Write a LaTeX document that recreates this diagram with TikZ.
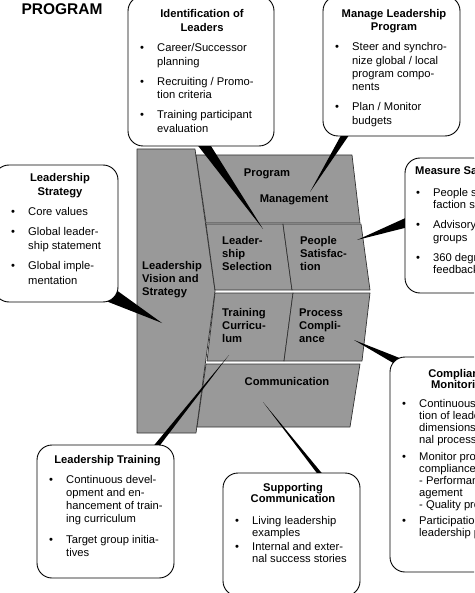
\documentclass[tikz,border=0pt]{standalone}
\usepackage{fontspec}
\setmainfont{Liberation Sans}
\usetikzlibrary{calc,backgrounds}
\definecolor{blockgray}{RGB}{153,153,153}
\definecolor{edgegray}{RGB}{50,50,50}
\newcommand{\bodysize}[1]{\fontsize{11.2}{#1}\selectfont}
\newcommand{\txtrows}[2][l]{\begin{tabular}[t]{@{}#1@{}}#2\end{tabular}}
\newcommand{\itemrows}[1]{\begin{tabular}[t]{@{}p{17pt}@{}l@{}}#1\end{tabular}}

\begin{document}
\begin{tikzpicture}[x=1pt,y=-1pt,
    block/.style={fill=blockgray,draw=edgegray,line width=0.7pt,line join=round},
    callout/.style={draw=black,line width=0.9pt,fill=white,rounded corners=15pt,inner sep=0pt},
    tail/.style={fill=black},
    blocklabel/.style={font=\bfseries\bodysize{13.3},inner sep=0pt},
    boxtitle/.style={font=\bfseries\bodysize{#1},inner sep=0pt,anchor=base},
    boxtitle/.default=13.5,
    boxlist/.style={font=\bodysize{#1},inner sep=0pt,anchor=base west},
    boxlist/.default=13.5]
    \useasboundingbox (0,0) rectangle (474,593);
    \clip (0,0) rectangle (474,593);

    % callout boxes
    \node[callout,minimum width=146pt,minimum height=150pt] (idbox) at (201,71) {};
    \node[callout,minimum width=137pt,minimum height=140pt] (mlbox) at (391.5,66) {};
    \node[callout,minimum width=124pt,minimum height=137pt] (lsbox) at (56,233.5) {};
    \node[callout,minimum width=140pt,minimum height=135pt] (msbox) at (475,225.5) {};
    \node[callout,minimum width=140pt,minimum height=215pt] (cmbox) at (460,464.5) {};
    \node[callout,minimum width=137pt,minimum height=133pt] (ltbox) at (105.5,511.5) {};
    \node[callout,minimum width=137pt,minimum height=123pt] (scbox) at (291.5,534.5) {};

    \node[font=\bfseries\fontsize{15.5}{18}\selectfont,inner sep=0pt] (prog) at (62,9) {PROGRAM};

    % callout texts
    \node[boxtitle=14] (idtitle) at (202,18) {\txtrows[c]{Identification of\\Leaders}};
    \node[boxlist=13.5] (idlist) at (140,52) {\itemrows{\textbullet & Career/Successor\\ & planning\\[6.5pt]
        \textbullet & Recruiting / Promo-\\ & tion criteria\\[6.5pt]
        \textbullet & Training participant\\ & evaluation}};

    \node[boxtitle=13] (mltitle) at (394,18) {\txtrows[c]{Manage Leadership\\Program}};
    \node[boxlist=13.3] (mllist) at (335,51) {\itemrows{\textbullet & Steer and synchro-\\ & nize global / local\\
        & program compo-\\ & nents\\[6.7pt]
        \textbullet & Plan / Monitor\\ & budgets}};

    \node[boxtitle=14] (lstitle) at (60,182) {\txtrows[c]{Leadership\\Strategy}};
    \node[boxlist=14] (lslist) at (11,216) {\itemrows{\textbullet & Core values\\[6pt]
        \textbullet & Global leader-\\ & ship statement\\[6pt]
        \textbullet & Global imple-\\ & mentation}};

    \node[boxtitle=12,anchor=base west] (mstitle) at (415,175) {Measure Satisfaction};
    \node[boxlist=12] (mslist) at (416,197) {\itemrows{\textbullet & People satis-\\ & faction survey\\[8pt]
        \textbullet & Advisory board\\ & groups\\[8pt]
        \textbullet & 360 degree\\ & feedback}};

    \node[boxtitle=11.5] (cmtitle) at (460,377) {\txtrows[c]{Compliance\\Monitoring}};
    \node[boxlist=12] (cmlist) at (402,407) {\itemrows{\textbullet & Continuous evalua-\\ & tion of leadership\\
        & dimensions in inter-\\ & nal processes\\[5pt]
        \textbullet & Monitor process\\ & compliance:\\ & - Performance man-\\ & agement\\ & - Quality processes\\[4.5pt]
        \textbullet & Participation in\\ & leadership program}};

    \node[boxtitle] (lttitle) at (107.5,463) {Leadership Training};
    \node[boxlist=13] (ltlist) at (49,483) {\itemrows{\textbullet & Continuous devel-\\ & opment and en-\\
        & hancement of train-\\ & ing curriculum\\[8pt]
        \textbullet & Target group initia-\\ & tives}};

    \node[boxtitle=11.5] (sctitle) at (293,491) {\txtrows[c]{Supporting\\Communication}};
    \node[boxlist=12] (sclist) at (235,524) {\itemrows{\textbullet & Living leadership\\ & examples\\[2pt]
        \textbullet & Internal and exter-\\ & nal success stories}};

    % block labels
    \node[blocklabel,anchor=base west] (lvs) at (142,269) {\txtrows{Leadership\\Vision and\\Strategy}};
    \node[blocklabel,anchor=base] (pm1) at (267,177) {Program};
    \node[blocklabel,anchor=base] (pm2) at (294,203) {Management};
    \node[blocklabel,anchor=base west] (sel) at (222,244) {\txtrows{Leader-\\ship\\Selection}};
    \node[blocklabel,anchor=base west] (ps) at (300,244) {\txtrows{People\\Satisfac-\\tion}};
    \node[blocklabel,anchor=base west] (tc) at (222,316) {\txtrows{Training\\Curricu-\\lum}};
    \node[blocklabel,anchor=base west] (pc) at (299,316) {\txtrows{Process\\Compli-\\ance}};
    \node[blocklabel,anchor=base] (com) at (287,385) {Communication};

    % tail tips
    \coordinate (idtip) at (263,229);
    \coordinate (mltip) at (310,192);
    \coordinate (lstip) at (162,323);
    \coordinate (mstip) at (357,240);
    \coordinate (cmtip) at (354,340);
    \coordinate (lttip) at (229,355);
    \coordinate (sctip) at (263,402);

    \begin{pgfonlayer}{background}
        % the blocks
        \draw[block] (137,149) -- (195,149) -- (215,291) -- (196,433) -- (137,433) -- cycle;
        \draw[block] (196,155) -- (352,155) -- (360,223) -- (206,223) -- cycle;
        \draw[block] (206,224) -- (283,224) -- (292,290) -- (215,290) -- cycle;
        \draw[block] (283,224) -- (361,224) -- (370,290) -- (292,290) -- cycle;
        \draw[block] (215,293) -- (293,293) -- (284,361) -- (207,361) -- cycle;
        \draw[block] (293,293) -- (370,293) -- (362,361) -- (284,361) -- cycle;
        \draw[block] (206,364) -- (360,364) -- (350,427) -- (197,427) -- cycle;
        % tails
        \fill[tail] ($(idbox.south)+(-4,-2)$) -- ($(idbox.south)+(9,-2)$) -- (idtip) -- cycle;
        \fill[tail] ($(mlbox.south)+(-50,-2)$) -- ($(mlbox.south)+(-42,-2)$) -- (mltip) -- cycle;
        \fill[tail] ($(lsbox.south east)+(-14,-2)$) -- ($(lsbox.south east)+(-3,-13)$) -- (lstip) -- cycle;
        \fill[tail] ($(msbox.west)+(2,-8)$) -- ($(msbox.west)+(2,2)$) -- (mstip) -- cycle;
        \fill[tail] ($(cmbox.north west)+(8,9)$) -- ($(cmbox.north west)+(14,3)$) -- (cmtip) -- cycle;
        \fill[tail] ($(ltbox.north)+(47.5,2)$) -- ($(ltbox.north)+(53.5,2)$) -- (lttip) -- cycle;
        \fill[tail] ($(scbox.north)+(26.5,2)$) -- ($(scbox.north)+(31.5,2)$) -- (sctip) -- cycle;
    \end{pgfonlayer}
\end{tikzpicture}
\end{document}
